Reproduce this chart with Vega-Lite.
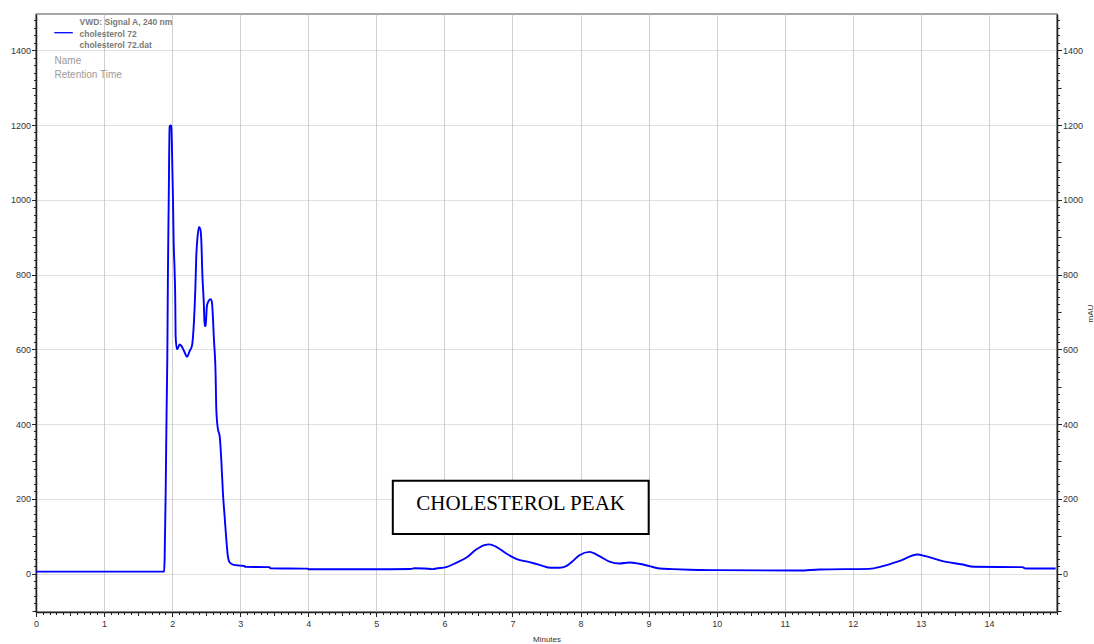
{
  "$schema": "https://vega.github.io/schema/vega-lite/v6.json",
  "width": 1021,
  "height": 598,
  "autosize": {"type": "none"},
  "padding": {"left": 36, "top": 14, "right": 37, "bottom": 32},
  "background": "white",
  "config": {
    "view": {"stroke": "#8a8a8a", "strokeWidth": 1.5},
    "axis": {
      "labelFont": "Liberation Sans",
      "titleFont": "Liberation Sans",
      "labelColor": "#333333",
      "labelFontSize": 9,
      "titleColor": "#333333",
      "titleFontSize": 8,
      "titleFontWeight": "normal",
      "domainColor": "#222222",
      "domainWidth": 1.5,
      "tickColor": "#222222",
      "tickWidth": 1,
      "labelFlush": false,
      "labelOverlap": false
    }
  },
  "datasets": {
    "trace": [
      {"t": 0, "v": 5}, {"t": 1.0, "v": 5}, {"t": 1.87, "v": 5}, {"t": 1.88, "v": 6},
      {"t": 1.89, "v": 40}, {"t": 1.905, "v": 217}, {"t": 1.919, "v": 440}, {"t": 1.929, "v": 573},
      {"t": 1.938, "v": 800}, {"t": 1.95, "v": 1000}, {"t": 1.963, "v": 1196}, {"t": 1.975, "v": 1199},
      {"t": 1.988, "v": 1198}, {"t": 1.997, "v": 1141}, {"t": 2.012, "v": 1007}, {"t": 2.022, "v": 890},
      {"t": 2.037, "v": 806}, {"t": 2.047, "v": 716}, {"t": 2.051, "v": 636}, {"t": 2.07, "v": 600},
      {"t": 2.09, "v": 605}, {"t": 2.11, "v": 613}, {"t": 2.135, "v": 609}, {"t": 2.183, "v": 592},
      {"t": 2.217, "v": 580}, {"t": 2.257, "v": 595}, {"t": 2.291, "v": 609}, {"t": 2.32, "v": 672},
      {"t": 2.341, "v": 761}, {"t": 2.355, "v": 850}, {"t": 2.37, "v": 893}, {"t": 2.394, "v": 927},
      {"t": 2.414, "v": 921}, {"t": 2.429, "v": 890}, {"t": 2.443, "v": 806}, {"t": 2.467, "v": 716},
      {"t": 2.477, "v": 662}, {"t": 2.492, "v": 663}, {"t": 2.511, "v": 716}, {"t": 2.536, "v": 729},
      {"t": 2.565, "v": 734}, {"t": 2.584, "v": 726}, {"t": 2.614, "v": 627}, {"t": 2.639, "v": 530},
      {"t": 2.649, "v": 439}, {"t": 2.673, "v": 386}, {"t": 2.698, "v": 368}, {"t": 2.722, "v": 305},
      {"t": 2.746, "v": 216}, {"t": 2.771, "v": 153}, {"t": 2.796, "v": 91}, {"t": 2.819, "v": 46},
      {"t": 2.844, "v": 30}, {"t": 2.893, "v": 24}, {"t": 3.0, "v": 21}, {"t": 3.065, "v": 20},
      {"t": 3.07, "v": 18}, {"t": 3.43, "v": 17}, {"t": 3.44, "v": 14}, {"t": 3.99, "v": 13},
      {"t": 4.0, "v": 11.5}, {"t": 5.0, "v": 11.5}, {"t": 5.5, "v": 12}, {"t": 5.56, "v": 14},
      {"t": 5.7, "v": 13.4}, {"t": 5.8, "v": 12}, {"t": 5.83, "v": 11.6}, {"t": 5.88, "v": 13.4},
      {"t": 6.026, "v": 17}, {"t": 6.173, "v": 28.6}, {"t": 6.32, "v": 42}, {"t": 6.467, "v": 64},
      {"t": 6.589, "v": 76}, {"t": 6.662, "v": 78}, {"t": 6.761, "v": 71.4}, {"t": 6.908, "v": 53.6},
      {"t": 7.054, "v": 39.4}, {"t": 7.25, "v": 30.4}, {"t": 7.397, "v": 23.2}, {"t": 7.568, "v": 15.2},
      {"t": 7.69, "v": 15.2}, {"t": 7.789, "v": 19.6}, {"t": 7.885, "v": 33}, {"t": 7.984, "v": 49},
      {"t": 8.131, "v": 58}, {"t": 8.278, "v": 46.4}, {"t": 8.425, "v": 32}, {"t": 8.571, "v": 26.8},
      {"t": 8.718, "v": 29.5}, {"t": 8.865, "v": 26}, {"t": 9.012, "v": 19.6}, {"t": 9.159, "v": 13.4},
      {"t": 9.354, "v": 11.6}, {"t": 9.6, "v": 10}, {"t": 10.0, "v": 9}, {"t": 11.21, "v": 8},
      {"t": 11.51, "v": 10.7}, {"t": 12.24, "v": 12.5}, {"t": 12.44, "v": 19.6}, {"t": 12.68, "v": 33},
      {"t": 12.95, "v": 51}, {"t": 13.07, "v": 46.4}, {"t": 13.32, "v": 33}, {"t": 13.61, "v": 24},
      {"t": 13.78, "v": 18}, {"t": 14.49, "v": 17}, {"t": 14.54, "v": 13.4}, {"t": 14.98, "v": 13.4}
    ]
  },
  "resolve": {"axis": {"x": "independent", "y": "independent"}},
  "layer": [
    {
      "data": {"name": "trace"},
      "mark": {"type": "line", "color": "#0000ff", "strokeWidth": 1.9, "interpolate": "monotone"},
      "encoding": {
        "x": {
          "field": "t", "type": "quantitative",
          "scale": {"domain": [0, 15], "nice": false, "zero": false},
          "axis": {
            "orient": "bottom", "values": [0,1,2,3,4,5,6,7,8,9,10,11,12,13,14],
            "format": "d", "tickSize": 4.5, "labelPadding": 3,
            "grid": true, "gridColor": "#d0d0d0", "gridWidth": 1,
            "title": "Minutes", "titlePadding": 7
          }
        },
        "y": {
          "field": "v", "type": "quantitative",
          "scale": {"domain": [-103, 1497], "nice": false, "zero": false},
          "axis": {
            "orient": "left", "values": [0,200,400,600,800,1000,1200,1400],
            "format": "d", "tickSize": 4.5, "labelPadding": 1,
            "grid": true, "gridColor": "#c0c0c0", "gridDash": [1, 1], "gridWidth": 1,
            "title": null
          }
        }
      }
    },
    {
      "data": {"values": [{"note": "box"}]},
      "mark": {"type": "rect", "fill": "white", "stroke": "black", "strokeWidth": 2},
      "encoding": {
        "x": {
          "datum": 5.242, "type": "quantitative",
          "scale": {"domain": [0, 15], "nice": false, "zero": false},
          "axis": {
            "orient": "bottom", "labels": false, "domain": false, "grid": false, "title": null, "tickSize": 2.5,
            "values": [0,0.1,0.2,0.3,0.4,0.5,0.6,0.7,0.8,0.9,1,1.1,1.2,1.3,1.4,1.5,1.6,1.7,1.8,1.9,2,2.1,2.2,2.3,2.4,2.5,2.6,2.7,2.8,2.9,3,3.1,3.2,3.3,3.4,3.5,3.6,3.7,3.8,3.9,4,4.1,4.2,4.3,4.4,4.5,4.6,4.7,4.8,4.9,5,5.1,5.2,5.3,5.4,5.5,5.6,5.7,5.8,5.9,6,6.1,6.2,6.3,6.4,6.5,6.6,6.7,6.8,6.9,7,7.1,7.2,7.3,7.4,7.5,7.6,7.7,7.8,7.9,8,8.1,8.2,8.3,8.4,8.5,8.6,8.7,8.8,8.9,9,9.1,9.2,9.3,9.4,9.5,9.6,9.7,9.8,9.9,10,10.1,10.2,10.3,10.4,10.5,10.6,10.7,10.8,10.9,11,11.1,11.2,11.3,11.4,11.5,11.6,11.7,11.8,11.9,12,12.1,12.2,12.3,12.4,12.5,12.6,12.7,12.8,12.9,13,13.1,13.2,13.3,13.4,13.5,13.6,13.7,13.8,13.9,14,14.1,14.2,14.3,14.4,14.5,14.6,14.7,14.8,14.9,15]
          }
        },
        "x2": {"datum": 9.001},
        "y": {
          "datum": 105.7, "type": "quantitative",
          "scale": {"domain": [-103, 1497], "nice": false, "zero": false},
          "axis": {
            "orient": "left", "labels": false, "domain": false, "grid": false, "title": null, "tickSize": 2.5,
            "values": [-100,-80,-60,-40,-20,0,20,40,60,80,100,120,140,160,180,200,220,240,260,280,300,320,340,360,380,400,420,440,460,480,500,520,540,560,580,600,620,640,660,680,700,720,740,760,780,800,820,840,860,880,900,920,940,960,980,1000,1020,1040,1060,1080,1100,1120,1140,1160,1180,1200,1220,1240,1260,1280,1300,1320,1340,1360,1380,1400,1420,1440,1460,1480]
          }
        },
        "y2": {"datum": 248.3}
      }
    },
    {
      "data": {"values": [{"note": "CHOLESTEROL PEAK"}]},
      "mark": {"type": "text", "font": "Liberation Serif", "fontSize": 21, "color": "black", "align": "center", "baseline": "middle"},
      "encoding": {
        "text": {"field": "note", "type": "nominal"},
        "x": {
          "datum": 7.12, "type": "quantitative",
          "scale": {"domain": [0, 15], "nice": false, "zero": false},
          "axis": {
            "orient": "bottom", "labels": false, "domain": false, "grid": false, "title": null, "tickSize": 3.5,
            "values": [0.5,1.5,2.5,3.5,4.5,5.5,6.5,7.5,8.5,9.5,10.5,11.5,12.5,13.5,14.5]
          }
        },
        "y": {
          "datum": 186, "type": "quantitative",
          "scale": {"domain": [-103, 1497], "nice": false, "zero": false},
          "axis": {
            "orient": "left", "labels": false, "domain": false, "grid": false, "title": null, "tickSize": 4,
            "values": [-100,100,300,500,700,900,1100,1300]
          }
        }
      }
    },
    {
      "data": {"values": [{"lines": ["VWD: Signal A, 240 nm", "cholesterol 72", "cholesterol 72.dat"]}]},
      "mark": {"type": "text", "font": "Liberation Sans", "fontSize": 8.5, "fontWeight": "bold", "color": "#7a7a7a", "align": "left", "baseline": "top", "lineHeight": 11.5},
      "encoding": {
        "text": {"field": "lines", "type": "nominal"},
        "x": {"datum": 0.639, "type": "quantitative", "scale": {"domain": [0, 15], "nice": false, "zero": false}, "axis": null},
        "y": {
          "datum": 1485, "type": "quantitative",
          "scale": {"domain": [-103, 1497], "nice": false, "zero": false},
          "axis": {
            "orient": "right", "values": [0,200,400,600,800,1000,1200,1400],
            "format": "d", "tickSize": 4.5, "labelPadding": 1, "grid": false,
            "title": "mAU", "titleAngle": 270, "titlePadding": 12
          }
        }
      }
    },
    {
      "data": {"values": [{"lines": ["Name", "Retention Time"]}]},
      "mark": {"type": "text", "font": "Liberation Sans", "fontSize": 10, "color": "#9a9a9a", "align": "left", "baseline": "top", "lineHeight": 14},
      "encoding": {
        "text": {"field": "lines", "type": "nominal"},
        "x": {"datum": 0.272, "type": "quantitative", "scale": {"domain": [0, 15], "nice": false, "zero": false}, "axis": null},
        "y": {
          "datum": 1384, "type": "quantitative",
          "scale": {"domain": [-103, 1497], "nice": false, "zero": false},
          "axis": {
            "orient": "right", "labels": false, "domain": false, "grid": false, "title": null, "tickSize": 2.5,
            "values": [-100,-80,-60,-40,-20,0,20,40,60,80,100,120,140,160,180,200,220,240,260,280,300,320,340,360,380,400,420,440,460,480,500,520,540,560,580,600,620,640,660,680,700,720,740,760,780,800,820,840,860,880,900,920,940,960,980,1000,1020,1040,1060,1080,1100,1120,1140,1160,1180,1200,1220,1240,1260,1280,1300,1320,1340,1360,1380,1400,1420,1440,1460,1480]
          }
        }
      }
    },
    {
      "data": {"values": [{"series": "cholesterol 72"}]},
      "mark": {"type": "rule", "color": "#0000ff", "strokeWidth": 1.3},
      "encoding": {
        "x": {"datum": 0.269, "type": "quantitative", "scale": {"domain": [0, 15], "nice": false, "zero": false}, "axis": null},
        "x2": {"datum": 0.541},
        "y": {
          "datum": 1447, "type": "quantitative",
          "scale": {"domain": [-103, 1497], "nice": false, "zero": false},
          "axis": {
            "orient": "right", "labels": false, "domain": false, "grid": false, "title": null, "tickSize": 4,
            "values": [-100,100,300,500,700,900,1100,1300]
          }
        }
      }
    }
  ]
}
